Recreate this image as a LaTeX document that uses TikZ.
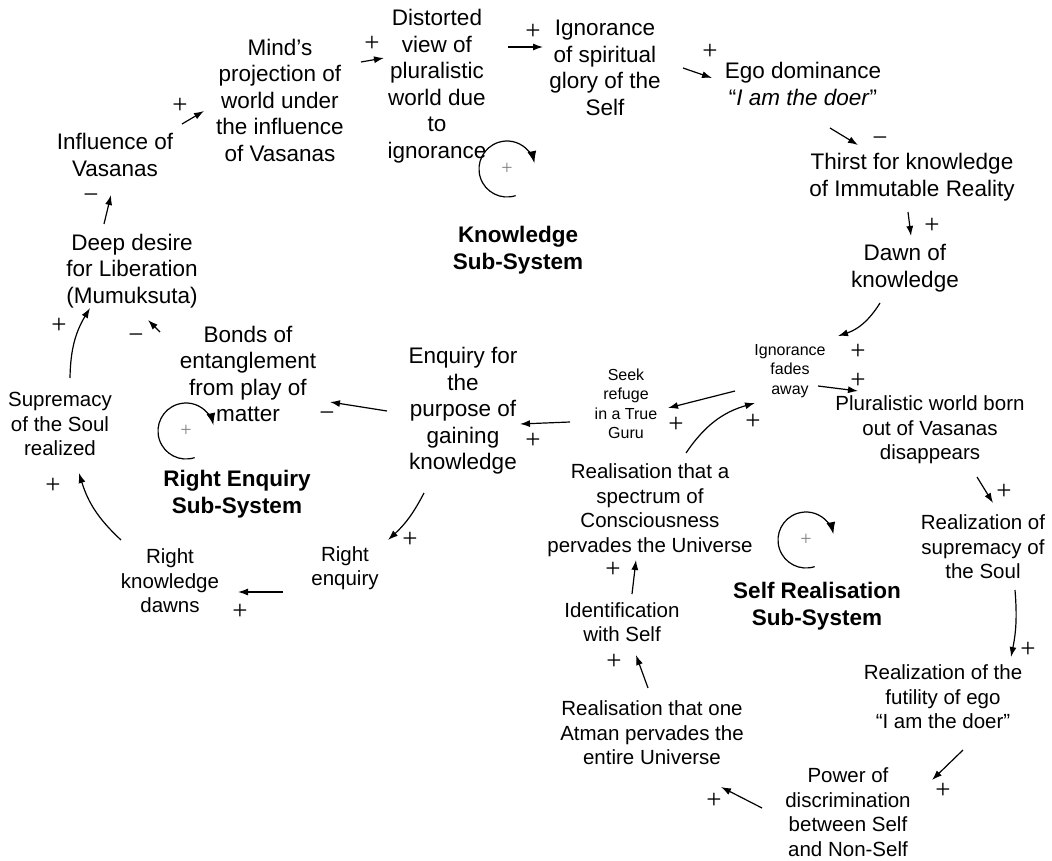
\documentclass[tikz,border=0pt]{standalone}
\usepackage{fontspec}
\setmainfont{Liberation Sans}
\newfontfamily\signfont{Liberation Serif}
\usetikzlibrary{arrows.meta}
\tikzset{
  bigtxt/.style={align=center, inner sep=0pt, font=\fontsize{22.5}{26.5}\selectfont},
  midtxt/.style={align=center, inner sep=0pt, font=\fontsize{20.5}{24.5}\selectfont},
  smalltxt/.style={align=center, inner sep=0pt, font=\fontsize{16}{19.5}\selectfont},
  boldtxt/.style={align=center, inner sep=0pt, font=\bfseries\fontsize{22.5}{26.5}\selectfont},
  sgn/.style={inner sep=0pt, font=\signfont\fontsize{27}{27}\selectfont},
  lp/.style={inner sep=0pt, text=gray, font=\signfont\fontsize{20}{20}\selectfont},
  arr/.style={-{Latex[length=10pt,width=7pt]}, line width=1.2pt},
  looparr/.style={-{Latex[length=12pt,width=9pt]}, line width=1.2pt},
}
\begin{document}
\begin{tikzpicture}[x=1pt, y=-1pt]
\useasboundingbox (0,0) rectangle (1052,861);
\fill[white] (0,0) rectangle (1052,861);

% ---------- nodes ----------
\node[bigtxt] (inf)   at (115,155) {Influence of\\Vasanas};
\node[bigtxt] (mind)  at (280,100) {Mind’s\\projection of\\world under\\the influence\\of Vasanas};
\node[bigtxt] (dist)  at (437,86)  {Distorted\\view of\\pluralistic\\world due\\to\\ignorance};
\node[bigtxt] (ign)   at (605,68)  {Ignorance\\of spiritual\\glory of the\\Self};
\node[bigtxt] (ego)   at (803,84)  {Ego dominance\\“\textit{I am the doer}”};
\node[bigtxt] (thirst) at (912,177) {Thirst for knowledge\\of Immutable Reality};
\node[bigtxt] (dawn)  at (905,268) {Dawn of\\knowledge};
\node[smalltxt] (fade) at (790,371) {Ignorance\\fades\\away};
\node[smalltxt] (seek) at (626,404) {Seek\\refuge\\in a True\\Guru};
\node[midtxt] (plur)  at (930,430) {Pluralistic world born\\out of Vasanas\\disappears};
\node[midtxt] (supr)  at (983,547) {Realization of\\supremacy of\\the Soul};
\node[midtxt] (fut)   at (943,697) {Realization of the\\futility of ego\\“I am the doer”};
\node[midtxt] (power) at (848,812) {Power of\\discrimination\\between Self\\and Non-Self};
\node[midtxt] (atman) at (652,733) {Realisation that one\\Atman pervades the\\entire Universe};
\node[midtxt] (ident) at (622,622) {Identification\\with Self};
\node[midtxt] (spec)  at (650,510) {Realisation that a\\spectrum of\\Consciousness\\pervades the Universe};
\node[boldtxt] (selfsub) at (817,606) {Self Realisation\\Sub-System};
\node[bigtxt] (enq)   at (463,411) {Enquiry for\\the\\purpose of\\gaining\\knowledge};
\node[bigtxt] (bonds) at (248,374) {Bonds of\\entanglement\\from play of\\matter};
\node[boldtxt] (resub) at (237,494) {Right Enquiry\\Sub-System};
\node[midtxt] (renq)  at (345,568) {Right\\enquiry};
\node[midtxt] (rkd)   at (170,581) {Right\\knowledge\\dawns};
\node[midtxt] (soul)  at (60,424)  {Supremacy\\of the Soul\\realized};
\node[bigtxt] (deep)  at (132,271) {Deep desire\\for Liberation\\(Mumuksuta)};
\node[boldtxt] (ksub) at (518,250) {Knowledge\\Sub-System};

% ---------- loops ----------
\node[lp] (kc) at (507,169) {+};
\draw[looparr] (kc.center) ++(72:28) arc[start angle=72, end angle=348, radius=28];
\node[lp] (sc) at (806,540) {+};
\draw[looparr] (sc.center) ++(72:28) arc[start angle=72, end angle=348, radius=28];
\node[lp] (rc) at (186,431) {+};
\draw[looparr] (rc.center) ++(72:28) arc[start angle=72, end angle=348, radius=28];

% ---------- connectors ----------
\draw[arr] ([shift={(-28,-47)}]deep.center) -- ([shift={(-4,40)}]inf.center);
\draw[arr] ([shift={(67,-31)}]inf.center) -- ([shift={(-76,11)}]mind.center);
\draw[arr] ([shift={(81,-38)}]mind.center) -- ([shift={(-53,-28)}]dist.center);
\draw[arr] ([shift={(71,-39)}]dist.center) -- ([shift={(-62,-21)}]ign.center);
\draw[arr] ([shift={(78,0)}]ign.center) -- ([shift={(-91,-6)}]ego.center);
\draw[arr] ([shift={(27,44)}]ego.center) -- ([shift={(-54,-32)}]thirst.center);
\draw[arr] ([shift={(-4,35)}]thirst.center) -- ([shift={(6,-32)}]dawn.center);
\draw[arr] ([shift={(-25,35)}]dawn.center) to[bend left=20] ([shift={(48,-35)}]fade.center);
\draw[arr] ([shift={(28,15)}]fade.center) -- ([shift={(-72,-39)}]plur.center);
\draw[arr] ([shift={(-55,20)}]fade.center) -- ([shift={(42,4)}]seek.center);
\draw[arr] ([shift={(-56,18)}]seek.center) -- ([shift={(57,13)}]enq.center);
\draw[arr] ([shift={(36,-57)}]spec.center) to[bend left=20] ([shift={(-35,32)}]fade.center);
\draw[arr] ([shift={(10,-28)}]ident.center) -- ([shift={(-14,50)}]spec.center);
\draw[arr] ([shift={(-4,-45)}]atman.center) -- ([shift={(14,33)}]ident.center);
\draw[arr] ([shift={(-86,-4)}]power.center) -- ([shift={(69,54)}]atman.center);
\draw[arr] ([shift={(20,53)}]fut.center) -- ([shift={(84,-32)}]power.center);
\draw[arr] ([shift={(32,43)}]supr.center) to[bend left=8] ([shift={(68,-40)}]fut.center);
\draw[arr] ([shift={(47,47)}]plur.center) -- ([shift={(10,-44)}]supr.center);
\draw[arr] ([shift={(-76,0)}]enq.center) -- ([shift={(82,28)}]bonds.center);
\draw[arr] ([shift={(-88,-42)}]bonds.center) -- ([shift={(16,49)}]deep.center);
\draw[arr] ([shift={(10,-46)}]soul.center) to[bend left=15] ([shift={(-42,37)}]deep.center);
\draw[arr] ([shift={(-49,-41)}]rkd.center) to[bend left=15] ([shift={(19,49)}]soul.center);
\draw[arr] ([shift={(-62,24)}]renq.center) -- ([shift={(68,11)}]rkd.center);
\draw[arr] ([shift={(-39,82)}]enq.center) to[bend left=10] ([shift={(43,-28)}]renq.center);

% ---------- polarity signs ----------
\node[sgn] (s1)  at (91,199)  {−};
\node[sgn] (s2)  at (180,106) {+};
\node[sgn] (s3)  at (372,44)  {+};
\node[sgn] (s4)  at (533,32)  {+};
\node[sgn] (s5)  at (710,52)  {+};
\node[sgn] (s6)  at (880,142) {−};
\node[sgn] (s7)  at (932,226) {+};
\node[sgn] (s8)  at (858,352) {+};
\node[sgn] (s9)  at (858,381) {+};
\node[sgn] (s10) at (676,425) {+};
\node[sgn] (s11) at (533,441) {+};
\node[sgn] (s12) at (753,422) {+};
\node[sgn] (s13) at (613,570) {+};
\node[sgn] (s14) at (614,662) {+};
\node[sgn] (s15) at (714,801) {+};
\node[sgn] (s16) at (943,791) {+};
\node[sgn] (s17) at (1028,650) {+};
\node[sgn] (s18) at (1004,492) {+};
\node[sgn] (s19) at (327,417) {−};
\node[sgn] (s20) at (136,339) {−};
\node[sgn] (s21) at (59,326)  {+};
\node[sgn] (s22) at (53,486)  {+};
\node[sgn] (s23) at (240,612) {+};
\node[sgn] (s24) at (410,540) {+};
\end{tikzpicture}
\end{document}
